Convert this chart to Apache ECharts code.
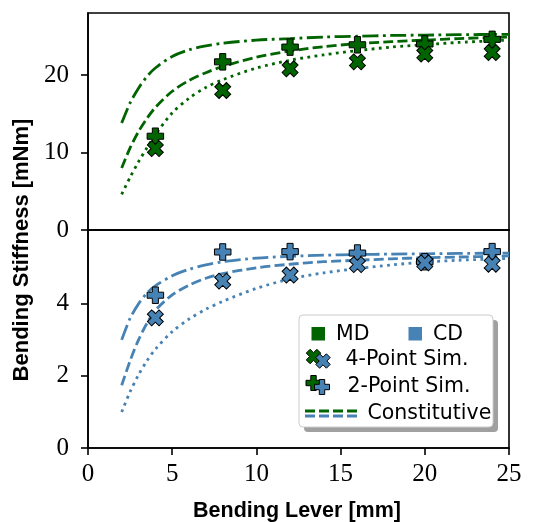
<!DOCTYPE html>
<html><head><meta charset="utf-8">
<script src="https://cdn.jsdelivr.net/npm/echarts@6/dist/echarts.min.js"></script>
<style>html,body{margin:0;padding:0;background:#fff}#c{width:542px;height:522px}</style>
</head><body><div id="c"></div>
<script>
// ---------- data ----------
const leverMm = [4, 8, 12, 16, 20, 24];
const md4Point = [10.5, 18.0, 20.8, 21.7, 22.7, 22.9];
const md2Point = [12.1, 21.7, 23.6, 23.9, 24.0, 24.6];
const cd4Point = [3.61, 4.63, 4.80, 5.09, 5.14, 5.10];
const cd2Point = [4.24, 5.44, 5.45, 5.41, 5.17, 5.45];

const curveLever = [2, 2.5, 3, 3.5, 4, 5, 6, 7, 8, 10, 12, 14, 16, 18, 20, 22, 25];
const mdConstDashDot = [13.8, 16.4, 18.3, 19.8, 20.9, 22.4, 23.25, 23.75, 24.1, 24.5, 24.7, 24.9, 25.0, 25.1, 25.15, 25.2, 25.25];
const mdConstDashed  = [8.0, 10.6, 12.7, 14.4, 15.8, 17.9, 19.3, 20.3, 21.1, 22.3, 23.1, 23.65, 24.05, 24.3, 24.5, 24.7, 24.9];
const mdConstDotted  = [4.6, 6.8, 8.8, 10.6, 12.3, 15.1, 17.0, 18.4, 19.4, 20.9, 21.9, 22.6, 23.15, 23.6, 23.9, 24.2, 24.5];
const cdConstDashDot = [3.0, 3.6, 4.0, 4.3, 4.5, 4.78, 4.96, 5.08, 5.17, 5.27, 5.32, 5.35, 5.37, 5.38, 5.39, 5.40, 5.41];
const cdConstDashed  = [1.74, 2.42, 3.0, 3.46, 3.82, 4.25, 4.52, 4.71, 4.84, 5.0, 5.1, 5.17, 5.21, 5.25, 5.28, 5.30, 5.33];
const cdConstDotted  = [1.0, 1.56, 2.03, 2.42, 2.74, 3.23, 3.58, 3.85, 4.07, 4.43, 4.69, 4.86, 4.98, 5.08, 5.16, 5.21, 5.26];

const xTicks = [0, 5, 10, 15, 20, 25];
const mdTicks = [0, 10, 20];
const cdTicks = [0, 2, 4];

const xTitle = 'Bending Lever [mm]';
const yTitle = 'Bending Stiffness [mNm]';
const legendLabels = ['MD', 'CD', '4-Point Sim.', '2-Point Sim.', 'Constitutive'];

// ---------- style ----------
const GREEN = '#006400', BLUE = '#4682b4';
const PLUS = 'path://M-1.1,-3L1.1,-3L1.1,-1.1L3,-1.1L3,1.1L1.1,1.1L1.1,3L-1.1,3L-1.1,1.1L-3,1.1L-3,-1.1L-1.1,-1.1Z';
const DASHDOT = [16, 4.5, 2.8, 4.5], DASHED = [10, 4.2], DOTTED = [2.8, 4.4];
const tickFont = {fontFamily: 'Liberation Serif', fontSize: 25, color: '#000'};

function zip(xs, ys) { return xs.map((x, i) => [x, ys[i]]); }

function curve(name, xi, yi, data, color, dash) {
  return {name, type: 'line', xAxisIndex: xi, yAxisIndex: yi, data: zip(curveLever, data),
    showSymbol: false, smooth: 0.3, z: 2, silent: true,
    lineStyle: {color, width: 2.8, type: dash, cap: 'butt'}};
}
function pts(name, xi, yi, data, color, symbol, rot) {
  return {name, type: 'scatter', xAxisIndex: xi, yAxisIndex: yi, data: zip(leverMm, data),
    symbol, symbolRotate: rot, symbolSize: 16.5, z: rot ? 4 : 3,
    itemStyle: {color, borderColor: '#000', borderWidth: 1, opacity: 1}};
}

// legend icon helper
function plusPoly(cx, cy, s, rotDeg) {
  const h = s / 2, a = s * 0.18, r = rotDeg * Math.PI / 180;
  const base = [[-a,-h],[a,-h],[a,-a],[h,-a],[h,a],[a,a],[a,h],[-a,h],[-a,a],[-h,a],[-h,-a],[-a,-a]];
  return base.map(([x, y]) => [cx + x * Math.cos(r) - y * Math.sin(r), cy + x * Math.sin(r) + y * Math.cos(r)]);
}
function icon(cx, cy, color, rot) {
  return {type: 'polygon', shape: {points: plusPoly(cx, cy, 15, rot)}, z: 102,
    style: {fill: color, stroke: '#000', lineWidth: 1}};
}

const LX = 299, LY = 315, LW = 194, LH = 112;
const legendFont = '20.5px "DejaVu Sans"';
const legendGraphic = [
  {type: 'rect', shape: {x: LX + 5, y: LY + 5, width: LW, height: LH, r: 4}, style: {fill: '#a0a0a0'}, z: 99},
  {type: 'rect', shape: {x: LX, y: LY, width: LW, height: LH, r: 4}, style: {fill: '#fff', stroke: '#cccccc', lineWidth: 1}, z: 100},
  {type: 'rect', shape: {x: 311.5, y: 327, width: 13.5, height: 13.5}, style: {fill: GREEN}, z: 101},
  {type: 'text', x: 336, y: 334.5, style: {text: legendLabels[0], font: legendFont, fill: '#000', textVerticalAlign: 'middle'}, z: 101},
  {type: 'rect', shape: {x: 408.5, y: 327, width: 13.5, height: 13.5}, style: {fill: BLUE}, z: 101},
  {type: 'text', x: 433, y: 334.5, style: {text: legendLabels[1], font: legendFont, fill: '#000', textVerticalAlign: 'middle'}, z: 101},
  icon(313.5, 356.5, GREEN, 45), icon(323, 361, BLUE, 45),
  {type: 'text', x: 345.5, y: 360, style: {text: legendLabels[2], font: legendFont, fill: '#000', textVerticalAlign: 'middle'}, z: 101},
  icon(313.5, 383, GREEN, 0), icon(322, 387, BLUE, 0),
  {type: 'text', x: 347.5, y: 387, style: {text: legendLabels[3], font: legendFont, fill: '#000', textVerticalAlign: 'middle'}, z: 101},
  {type: 'line', shape: {x1: 305, y1: 411, x2: 359, y2: 411}, style: {stroke: GREEN, lineWidth: 2.8, lineDash: [10, 4]}, z: 101},
  {type: 'line', shape: {x1: 305, y1: 416, x2: 359, y2: 416}, style: {stroke: BLUE, lineWidth: 2.8, lineDash: [10, 4]}, z: 101},
  {type: 'text', x: 367.5, y: 414, style: {text: legendLabels[4], font: legendFont, fill: '#000', textVerticalAlign: 'middle'}, z: 101},
  {type: 'text', x: 297, y: 511, style: {text: xTitle, font: 'bold 21.5px "Liberation Sans"', fill: '#000', textAlign: 'center', textVerticalAlign: 'middle'}},
  {type: 'text', x: 22, y: 250, rotation: Math.PI / 2, style: {text: yTitle, font: 'bold 22px "Liberation Sans"', fill: '#000', textAlign: 'center', textVerticalAlign: 'middle'}}
];

const axisLineStyle = {color: '#000', width: 1.6};

const option = {
  animation: false,
  backgroundColor: '#fff',
  grid: [
    {left: 88, top: 13, width: 421, height: 217, show: true, borderColor: '#000', borderWidth: 1.6, backgroundColor: 'transparent'},
    {left: 88, top: 230, width: 421, height: 218, show: true, borderColor: '#000', borderWidth: 1.6, backgroundColor: 'transparent'}
  ],
  xAxis: [
    {type: 'value', gridIndex: 0, min: 0, max: 25, splitLine: {show: false},
      axisLine: {lineStyle: axisLineStyle}, axisTick: {show: false}, axisLabel: {show: false}},
    {type: 'value', gridIndex: 1, min: 0, max: 25, splitLine: {show: false},
      axisLine: {onZero: false, lineStyle: axisLineStyle},
      axisTick: {show: true, length: 7, customValues: xTicks, lineStyle: axisLineStyle},
      axisLabel: Object.assign({customValues: xTicks, margin: 14}, tickFont)}
  ],
  yAxis: [
    {type: 'value', gridIndex: 0, min: 0, max: 28, splitLine: {show: false},
      axisLine: {show: true, onZero: false, lineStyle: axisLineStyle},
      axisTick: {show: true, length: 7, customValues: mdTicks, lineStyle: axisLineStyle},
      axisLabel: Object.assign({customValues: mdTicks, margin: 19}, tickFont)},
    {type: 'value', gridIndex: 1, min: 0, max: 6.05, splitLine: {show: false},
      axisLine: {show: true, onZero: false, lineStyle: axisLineStyle},
      axisTick: {show: true, length: 7, customValues: cdTicks, lineStyle: axisLineStyle},
      axisLabel: Object.assign({customValues: cdTicks, margin: 19}, tickFont)}
  ],
  series: [
    curve('MD Constitutive 1', 0, 0, mdConstDashDot, GREEN, DASHDOT),
    curve('MD Constitutive 2', 0, 0, mdConstDashed, GREEN, DASHED),
    curve('MD Constitutive 3', 0, 0, mdConstDotted, GREEN, DOTTED),
    pts('MD 2-Point Sim.', 0, 0, md2Point, GREEN, PLUS, 0),
    pts('MD 4-Point Sim.', 0, 0, md4Point, GREEN, PLUS, 45),
    curve('CD Constitutive 1', 1, 1, cdConstDashDot, BLUE, DASHDOT),
    curve('CD Constitutive 2', 1, 1, cdConstDashed, BLUE, DASHED),
    curve('CD Constitutive 3', 1, 1, cdConstDotted, BLUE, DOTTED),
    pts('CD 2-Point Sim.', 1, 1, cd2Point, BLUE, PLUS, 0),
    pts('CD 4-Point Sim.', 1, 1, cd4Point, BLUE, PLUS, 45)
  ],
  graphic: legendGraphic
};

const chart = echarts.init(document.getElementById('c'), null, {renderer: 'canvas'});
chart.setOption(option);
</script>
</body></html>
